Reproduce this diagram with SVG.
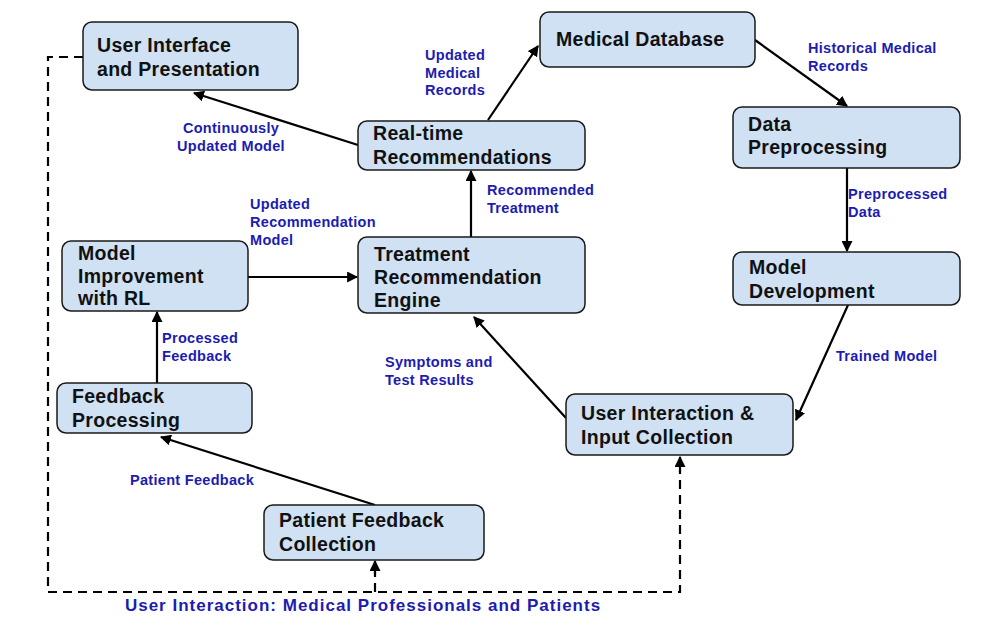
<svg xmlns="http://www.w3.org/2000/svg" width="984" height="639" viewBox="0 0 984 639">
<style>
.n{fill:#cfe1f3;stroke:#1a1a1a;stroke-width:1.5}
.t{font-family:"Liberation Sans",Arial,sans-serif;font-weight:bold;font-size:19.5px;letter-spacing:0.3px;fill:#111}
.l{font-family:"Liberation Sans",Arial,sans-serif;font-weight:bold;font-size:14.5px;letter-spacing:0.3px;fill:#1c1cb0}
.c{stroke:#000;stroke-width:2.2;fill:none;marker-end:url(#a)}
.d{stroke:#000;stroke-width:2.2;fill:none;stroke-dasharray:9,6}
</style>
<defs><marker id="a" viewBox="0 0 10 10" refX="9" refY="5" markerWidth="5" markerHeight="5" orient="auto"><path d="M0,0L10,5L0,10z" fill="#000"/></marker></defs>
<rect width="984" height="639" fill="#fff"/>
<g id="connectors">
<path class="c" d="M358,145L194,93"/>
<path class="c" d="M488,120L538,46"/>
<path class="c" d="M755,40L847,106"/>
<path class="c" d="M847,168L847,251"/>
<path class="c" d="M848,305L796,420"/>
<path class="c" d="M566,418L474,317"/>
<path class="c" d="M471,237L471,171"/>
<path class="c" d="M248,277L357,277"/>
<path class="c" d="M157,383L157,312"/>
<path class="c" d="M375,505L161,437"/>
<path class="d" d="M83,57L48,57L48,592L680,592L680,470"/>
<path class="c" d="M680,472L680,457"/>
<path class="d" d="M375,592L375,572"/>
<path class="c" d="M375,574L375,561"/>
</g>
<g id="ui"><rect class="n" x="83" y="22" width="215" height="68" rx="9"/><text class="t" x="97" y="52">User Interface</text><text class="t" x="97" y="76">and Presentation</text></g>
<g id="db"><rect class="n" x="540" y="12" width="215" height="55" rx="9"/><text class="t" x="556" y="46">Medical Database</text></g>
<g id="rt"><rect class="n" x="358" y="121" width="227" height="49" rx="9"/><text class="t" x="373" y="140">Real-time</text><text class="t" x="373" y="164">Recommendations</text></g>
<g id="dp"><rect class="n" x="733" y="107" width="227" height="61" rx="9"/><text class="t" x="748" y="131">Data</text><text class="t" x="748" y="154">Preprocessing</text></g>
<g id="mi"><rect class="n" x="62" y="241" width="186" height="70" rx="9"/><text class="t" x="78" y="260">Model</text><text class="t" x="78" y="283">Improvement</text><text class="t" x="78" y="305">with RL</text></g>
<g id="tr"><rect class="n" x="358" y="237" width="227" height="76" rx="9"/><text class="t" x="374" y="261">Treatment</text><text class="t" x="374" y="284">Recommendation</text><text class="t" x="374" y="307">Engine</text></g>
<g id="md"><rect class="n" x="733" y="252" width="227" height="53" rx="9"/><text class="t" x="749" y="274">Model</text><text class="t" x="749" y="298">Development</text></g>
<g id="fp"><rect class="n" x="57" y="383" width="195" height="50" rx="9"/><text class="t" x="72" y="403">Feedback</text><text class="t" x="72" y="427">Processing</text></g>
<g id="uic"><rect class="n" x="566" y="394" width="227" height="61" rx="9"/><text class="t" x="581" y="420">User Interaction &amp;</text><text class="t" x="581" y="444">Input Collection</text></g>
<g id="pfc"><rect class="n" x="264" y="505" width="220" height="55" rx="9"/><text class="t" x="279" y="527">Patient Feedback</text><text class="t" x="279" y="551">Collection</text></g>
<g id="labels">
<text class="l" x="425" y="60">Updated</text><text class="l" x="425" y="78">Medical</text><text class="l" x="425" y="95">Records</text>
<text class="l" x="808" y="53">Historical Medical</text><text class="l" x="808" y="71">Records</text>
<text class="l" x="231" y="133" text-anchor="middle">Continuously</text><text class="l" x="231" y="151" text-anchor="middle">Updated Model</text>
<text class="l" x="250" y="209">Updated</text><text class="l" x="250" y="227">Recommendation</text><text class="l" x="250" y="245">Model</text>
<text class="l" x="487" y="195">Recommended</text><text class="l" x="487" y="213">Treatment</text>
<text class="l" x="848" y="199">Preprocessed</text><text class="l" x="848" y="217">Data</text>
<text class="l" x="836" y="361">Trained Model</text>
<text class="l" x="385" y="367">Symptoms and</text><text class="l" x="385" y="385">Test Results</text>
<text class="l" x="162" y="343">Processed</text><text class="l" x="162" y="361">Feedback</text>
<text class="l" x="130" y="485">Patient Feedback</text>
<text class="l" x="363" y="611" text-anchor="middle" style="font-size:17px;letter-spacing:1px">User Interaction: Medical Professionals and Patients</text>
</g>
</svg>
